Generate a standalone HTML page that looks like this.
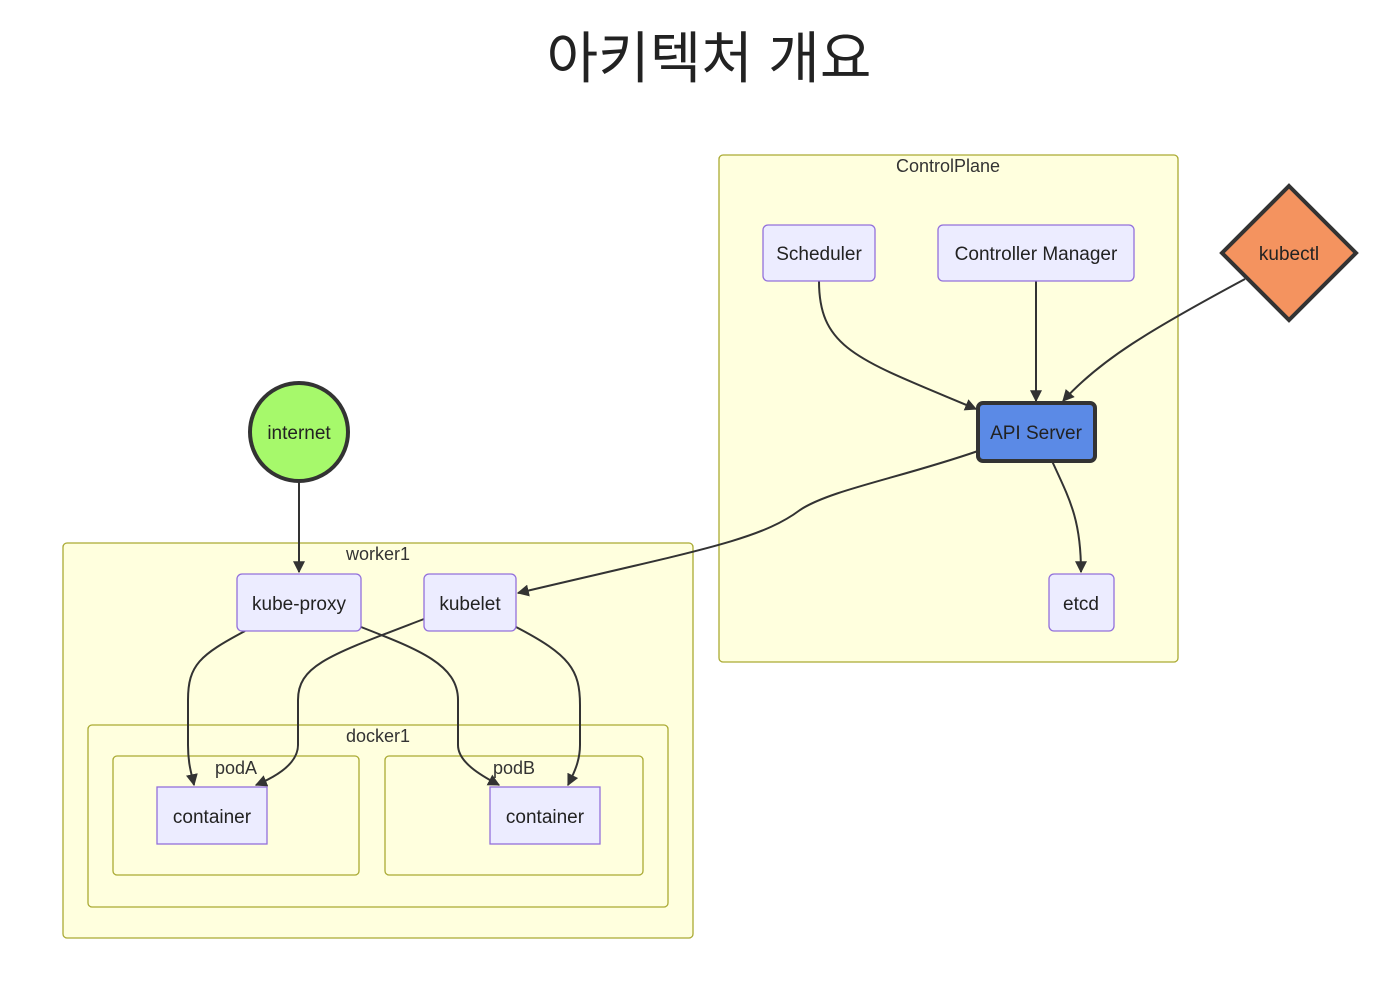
<!DOCTYPE html>
<html><head><meta charset="utf-8"><style>
html,body{margin:0;padding:0;background:#fff;}
svg{display:block;}
text{font-family:"Liberation Sans","Noto Sans CJK KR",sans-serif;}
.n{fill:#ececff;stroke:#9370db;stroke-width:1.3;}
.g{fill:#ffffde;stroke:#aaaa33;stroke-width:1.3;}
.e{fill:none;stroke:#333;stroke-width:2;}
.t{font-size:19px;fill:#222;text-anchor:middle;}
.gl{font-size:18px;fill:#333;text-anchor:middle;}
</style></head><body>
<svg width="1378" height="988" viewBox="0 0 1378 988" xmlns="http://www.w3.org/2000/svg">
<defs><marker id="a" viewBox="0 0 10 10" refX="9" refY="5" markerWidth="6" markerHeight="6" orient="auto"><path d="M0,0L10,5L0,10z" fill="#333"/></marker></defs>
<text x="709" y="78" font-size="56" fill="#222" text-anchor="middle" font-family="'Noto Sans CJK KR',sans-serif">아키텍처 개요</text>

<rect class="g" x="719" y="155" width="459" height="507" rx="4"/>
<text class="gl" x="948" y="172">ControlPlane</text>
<rect class="g" x="63" y="543" width="630" height="395" rx="4"/>
<text class="gl" x="378" y="560">worker1</text>
<rect class="g" x="88" y="725" width="580" height="182" rx="4"/>
<text class="gl" x="378" y="742">docker1</text>
<rect class="g" x="113" y="756" width="246" height="119" rx="4"/>
<text class="gl" x="236" y="774">podA</text>
<rect class="g" x="385" y="756" width="258" height="119" rx="4"/>
<text class="gl" x="514" y="774">podB</text>

<path class="e" marker-end="url(#a)" d="M299,481L299,572"/>
<path class="e" marker-end="url(#a)" d="M819,281C819,350 860,360 976,409"/>
<path class="e" marker-end="url(#a)" d="M1036,281L1036,401"/>
<path class="e" marker-end="url(#a)" d="M1245,279C1150,330 1100,360 1063,401"/>
<path class="e" marker-end="url(#a)" d="M978,451C900,478 830,490 800,510C760,540 700,550 518,593"/>
<path class="e" marker-end="url(#a)" d="M1052,461C1070,500 1081,520 1081,572"/>
<path class="e" marker-end="url(#a)" d="M245,631C200,655 188,665 188,700L188,745C188,765 192,775 194,785"/>
<path class="e" marker-end="url(#a)" d="M361,627C420,650 458,665 458,700L458,745C458,762 480,775 499,785"/>
<path class="e" marker-end="url(#a)" d="M424,619C330,655 298,665 298,700L298,745C298,762 280,775 256,785"/>
<path class="e" marker-end="url(#a)" d="M516,627C570,655 580,670 580,705L580,745C580,762 573,775 568,785"/>

<rect class="n" x="763" y="225" width="112" height="56" rx="5"/>
<text class="t" x="819" y="260">Scheduler</text>
<rect class="n" x="938" y="225" width="196" height="56" rx="5"/>
<text class="t" x="1036" y="260">Controller Manager</text>
<rect x="978" y="403" width="117" height="58" rx="5" fill="#5b8ae6" stroke="#333" stroke-width="4"/>
<text class="t" x="1036" y="439">API Server</text>
<rect class="n" x="1049" y="574" width="65" height="57" rx="5"/>
<text class="t" x="1081" y="610">etcd</text>
<polygon points="1289,186 1356,253 1289,320 1222,253" fill="#f4935f" stroke="#333" stroke-width="4"/>
<text class="t" x="1289" y="260">kubectl</text>
<circle cx="299" cy="432" r="49" fill="#a6f96b" stroke="#333" stroke-width="4"/>
<text class="t" x="299" y="439">internet</text>
<rect class="n" x="237" y="574" width="124" height="57" rx="5"/>
<text class="t" x="299" y="610">kube-proxy</text>
<rect class="n" x="424" y="574" width="92" height="57" rx="5"/>
<text class="t" x="470" y="610">kubelet</text>
<rect class="n" x="157" y="787" width="110" height="57"/>
<text class="t" x="212" y="823">container</text>
<rect class="n" x="490" y="787" width="110" height="57"/>
<text class="t" x="545" y="823">container</text>
</svg>
</body></html>
